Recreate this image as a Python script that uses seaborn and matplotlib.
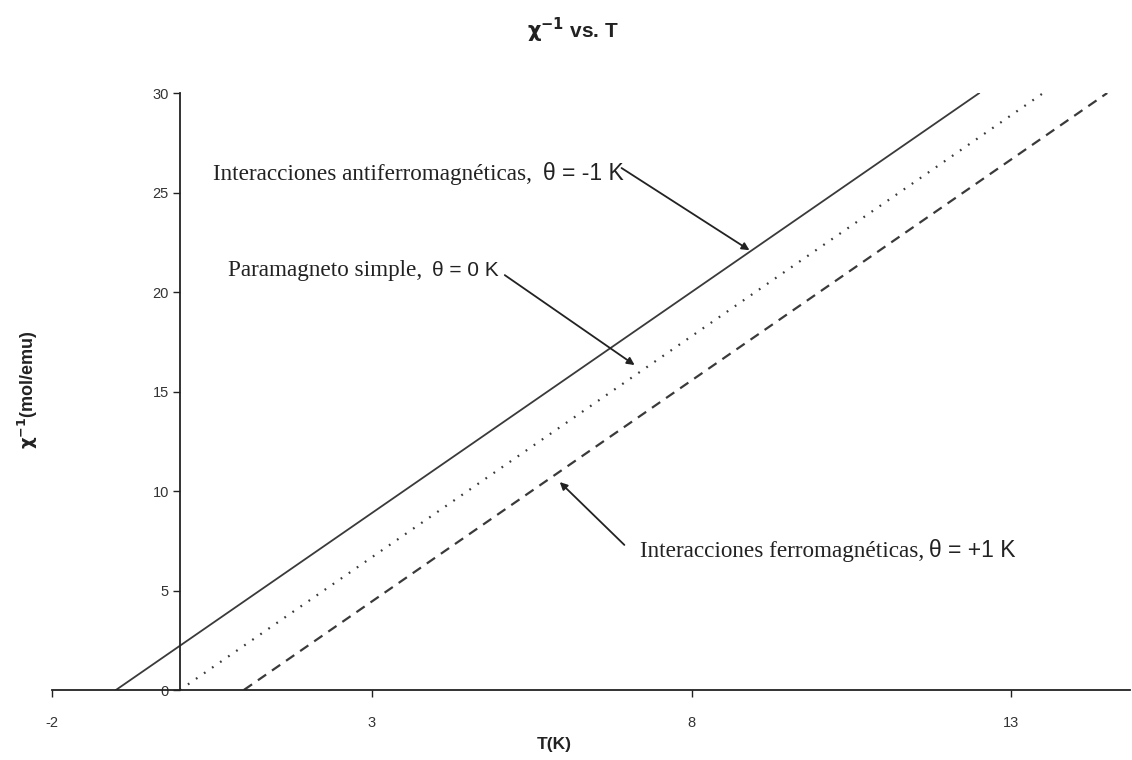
import matplotlib
matplotlib.use("Agg")
import matplotlib.pyplot as plt
import seaborn as sns
import pandas as pd

# Data (endpoints of each Curie-Weiss line, y clipped at 30)
T_antiferro = [-1.0, 12.5]
Y_antiferro = [0.0, 30.0]
T_para = [0.0, 13.5]
Y_para = [0.0, 30.0]
T_ferro = [1.0, 14.5]
Y_ferro = [0.0, 30.0]

x_ticks = [-2, 3, 8, 13]
y_ticks = [0, 5, 10, 15, 20, 25, 30]

sns.set_theme(style="white")
plt.rcParams['font.family'] = ['Liberation Sans', 'DejaVu Sans']
plt.rcParams['axes.unicode_minus'] = False

fig = plt.figure(figsize=(11.32, 7.6), dpi=100)
ax = fig.add_axes([0.0459, 0.0921, 0.952, 0.7855])

line_color = "#3a3a3a"
df_a = pd.DataFrame({"T": T_antiferro, "y": Y_antiferro})
df_p = pd.DataFrame({"T": T_para, "y": Y_para})
df_f = pd.DataFrame({"T": T_ferro, "y": Y_ferro})
sns.lineplot(data=df_a, x="T", y="y", ax=ax, color=line_color, linewidth=1.3, linestyle="-")
sns.lineplot(data=df_p, x="T", y="y", ax=ax, color=line_color, linewidth=1.6,
             linestyle=(0, (0.8, 3.6)))
sns.lineplot(data=df_f, x="T", y="y", ax=ax, color=line_color, linewidth=1.6,
             linestyle=(0, (4.5, 3.2)))

ax.set_xlim(-2, 14.85)
ax.set_ylim(0, 30)
ax.set_xticks(x_ticks)
ax.set_yticks(y_ticks)
ax.spines['left'].set_position(('data', 0))
ax.spines['top'].set_visible(False)
ax.spines['right'].set_visible(False)
for s in ('left', 'bottom'):
    ax.spines[s].set_color('#222222')
    ax.spines[s].set_linewidth(1.3)
ax.tick_params(axis='both', which='major', direction='out', length=5, width=1,
               color='#222222', labelsize=10.5, labelcolor='#333333', bottom=True, left=True)
ax.tick_params(axis='x', pad=14)
ax.tick_params(axis='y', pad=3)
ax.set_xlabel("")
ax.set_ylabel("")

fig.text(0.506, 0.96, r"$\mathbf{\chi}^{\mathbf{-1}}$ vs. T", ha='center', va='center',
         fontsize=15, fontweight='bold', color='#222222')
fig.text(0.49, 0.02, "T(K)", ha='center', va='center', fontsize=12.5,
         fontweight='bold', color='#222222')
fig.text(0.025, 0.487, r"$\mathbf{\chi}^{\mathbf{-1}}$(mol/emu)", ha='center', va='center',
         rotation=90, fontsize=13, fontweight='bold', color='#222222')

serif = ['Liberation Serif', 'DejaVu Serif']
sans = ['Liberation Sans', 'DejaVu Sans']
tc = '#222222'
ax.text(0.516, 25.63, "Interacciones antiferromagnéticas,", family=serif, fontsize=16.7,
        va='baseline', ha='left', color=tc)
ax.text(5.67, 25.63, "θ = -1 K", family=sans, fontsize=16.5, va='baseline', ha='left', color=tc)
ax.text(0.75, 20.8, "Paramagneto simple,", family=serif, fontsize=16.7,
        va='baseline', ha='left', color=tc)
ax.text(3.94, 20.8, "θ = 0 K", family=sans, fontsize=15, va='baseline', ha='left', color=tc)
ax.text(7.2, 6.68, "Interacciones ferromagnéticas,", family=serif, fontsize=16.7,
        va='baseline', ha='left', color=tc)
ax.text(11.72, 6.68, "θ = +1 K", family=sans, fontsize=16.5, va='baseline', ha='left', color=tc)

arrow_kw = dict(arrowstyle='-|>', color='#222222', lw=1.3, mutation_scale=11,
                shrinkA=0, shrinkB=0)
ax.annotate("", xy=(8.906, 22.1), xytext=(6.906, 26.23), arrowprops=arrow_kw)
ax.annotate("", xy=(7.11, 16.33), xytext=(5.08, 20.85), arrowprops=arrow_kw)
ax.annotate("", xy=(5.94, 10.45), xytext=(6.95, 7.29), arrowprops=arrow_kw)

fig.savefig("out.png", dpi=100)
